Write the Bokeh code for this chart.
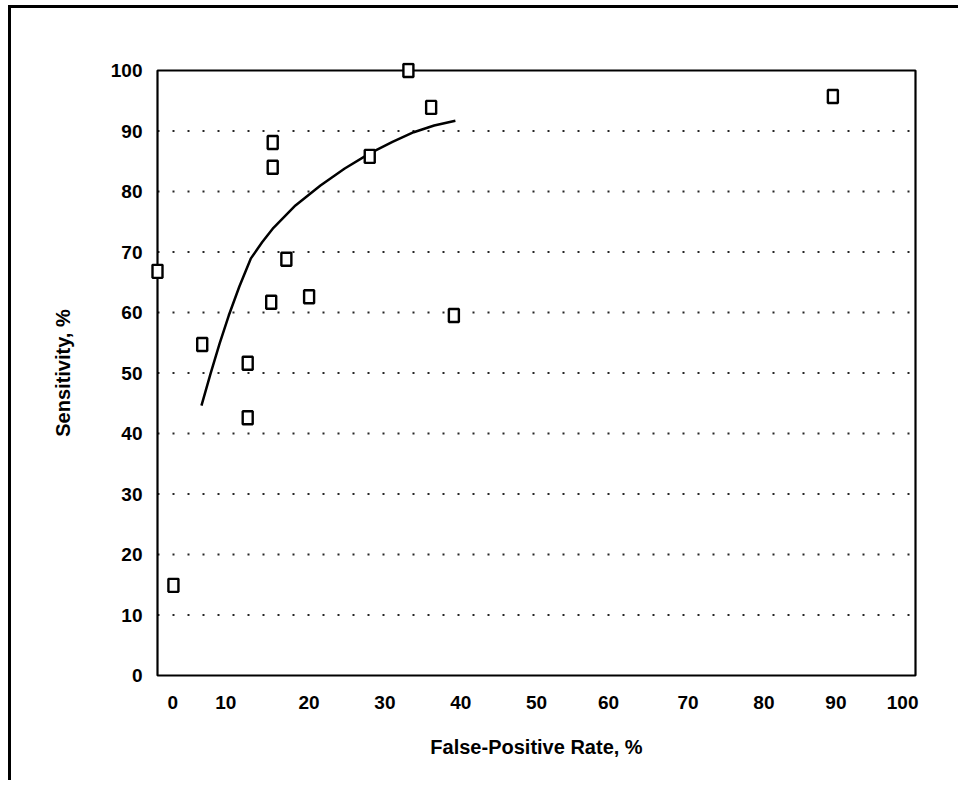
from bokeh.plotting import figure
from bokeh.models import FixedTicker, Range1d
from bokeh.core.properties import value
from bokeh.embed import file_html
from bokeh.resources import INLINE

# ---------------- data ----------------
fp_rate = [0, 2.1, 5.9, 11.9, 11.9, 15.0, 15.2, 15.2, 17.0, 20.0, 28.0, 33.1, 36.1, 39.1, 89.1]
sensitivity = [66.8, 14.9, 54.7, 51.6, 42.6, 61.7, 88.1, 84.0, 68.8, 62.6, 85.8, 100, 93.9, 59.5, 95.7]

curve_fp = [5.8, 7.0, 8.2, 9.4, 10.8, 12.3, 13.8, 15.3, 18.2, 21.5, 24.7, 28.0, 31.0, 33.8, 36.5, 39.3]
curve_sens = [44.6, 49.9, 54.9, 59.5, 64.3, 68.9, 71.6, 74.0, 77.7, 81.0, 83.8, 86.3, 88.2, 89.8, 90.9, 91.7]

x_tick_labels = ["0", "10", "20", "30", "40", "50", "60", "70", "80", "90", "100"]
y_ticks = [0, 10, 20, 30, 40, 50, 60, 70, 80, 90, 100]
grid_levels = [10, 20, 30, 40, 50, 60, 70, 80, 90]

# ---------------- layout ----------------
FONT = "Liberation Sans"
box_w, box_h = 758, 605          # visible axes box in px
pad = 8                          # frame padding so edge markers are not clipped
xpu = box_w / 100.0
ypu = box_h / 100.0

p = figure(
    width=950, height=775,
    output_backend="svg", toolbar_location=None,
    x_range=Range1d(-pad / xpu, 100 + pad / xpu),
    y_range=Range1d(-pad / ypu, 100 + pad / ypu),
    min_border_left=138, min_border_right=38,
    min_border_top=54, min_border_bottom=100,
    margin=(5, 0, 0, 8),
    styles={"border-top": "3px solid black", "border-left": "3px solid black"},
)
p.outline_line_color = None
p.background_fill_color = "white"
p.border_fill_color = "white"
p.xgrid.visible = False
p.ygrid.visible = False

# axes box
p.quad(left=0, right=100, bottom=0, top=100, fill_color=None,
       line_color="black", line_width=2.2)

# dotted horizontal grid lines
p.segment(x0=[0] * len(grid_levels), x1=[100] * len(grid_levels),
          y0=grid_levels, y1=grid_levels,
          line_color="black", line_width=2, line_dash=value("2 13"), line_alpha=0.85)

# fitted curve
p.line(curve_fp, curve_sens, line_color="black", line_width=2.5, line_join="round")

# study points (hollow rectangles)
p.rect(x=fp_rate, y=sensitivity, width=10, height=13,
       width_units="screen", height_units="screen",
       fill_color="white", line_color="black", line_width=2.4)

# x axis
x_tick_pos = [2, 9, 20, 30, 40, 50, 59.5, 70, 80, 89.5, 98.3]
p.xaxis.ticker = FixedTicker(ticks=x_tick_pos)
p.xaxis.major_label_overrides = {t: lab for t, lab in zip(x_tick_pos, x_tick_labels)}
p.xaxis.axis_label = "False-Positive Rate, %"

# y axis
p.yaxis.ticker = FixedTicker(ticks=y_ticks)
p.yaxis.axis_label = "Sensitivity, %"

for ax in (p.xaxis, p.yaxis):
    ax.axis_line_color = None
    ax.major_tick_line_color = None
    ax.minor_tick_line_color = None
    ax.major_label_text_font = FONT
    ax.major_label_text_font_style = "bold"
    ax.major_label_text_font_size = "19px"
    ax.major_label_text_color = "black"
    ax.axis_label_text_font = FONT
    ax.axis_label_text_font_style = "bold"
    ax.axis_label_text_font_size = "20px"
    ax.axis_label_text_color = "black"

p.xaxis.major_label_standoff = 6
p.xaxis.axis_label_standoff = 24
p.yaxis.major_label_standoff = 1
p.yaxis.axis_label_standoff = 34

open("out.html", "w").write(file_html(p, INLINE))
